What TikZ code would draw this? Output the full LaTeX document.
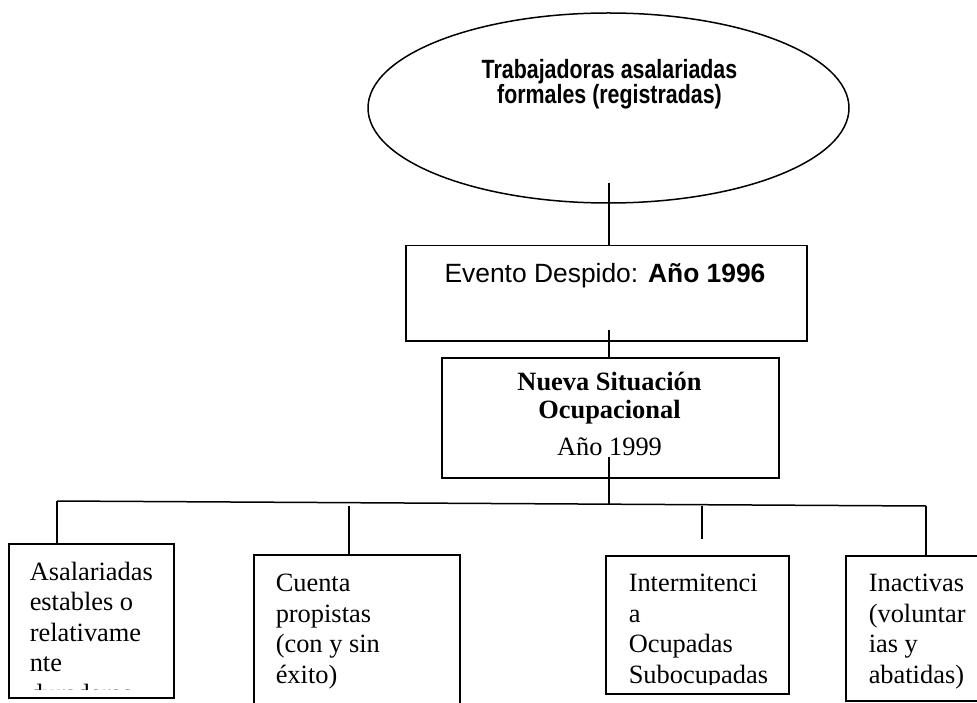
\documentclass[tikz,border=0pt]{standalone}
\usepackage{fontspec}
\setmainfont{Liberation Serif}
\setsansfont{Liberation Sans}
\newfontfamily\narrowsans[FakeStretch=0.81]{Liberation Sans}
\usetikzlibrary{shapes.geometric}

\begin{document}
\begin{tikzpicture}[x=1pt,y=-1pt,line width=1.5pt,
    caja/.style={draw,rectangle,inner sep=0pt,anchor=north west},
    serif/.style={font=\rmfamily\fontsize{26.4}{30.5}\selectfont,inner sep=0pt},
    sans/.style={font=\sffamily\fontsize{26.4}{30.5}\selectfont,inner sep=0pt},
    lista/.style={serif,align=left,anchor=base west}]
  \useasboundingbox (0,0) rectangle (977,703);
  \clip (0,0) rectangle (977,703);

  % poblacion de partida
  \node[draw,ellipse,minimum width=481pt,minimum height=190pt,inner sep=0pt] (trab) at (608.5,108) {};
  \node[font=\narrowsans\bfseries\fontsize{26.4}{22}\selectfont,align=center,anchor=base,inner sep=0pt]
    (trabt) at (609.5,104) {Trabajadoras asalariadas\\formales (registradas)};

  % evento y nueva situacion
  \node[caja,minimum width=401pt,minimum height=95pt] (evento) at (405,245) {};
  \node[sans,anchor=base] (eventot) at (605,283) {Evento Despido: \textbf{Año 1996}};
  \node[caja,minimum width=337pt,minimum height=120pt] (nueva) at (441,357) {};
  \node[serif,align=center,anchor=base] (nuevat) at (609.5,455)
    {\textbf{Nueva Situación}\\[-2pt]\textbf{Ocupacional}\\[6pt]Año 1999};

  % categorias
  \node[caja,minimum width=165pt,minimum height=154pt] (asal) at (8,543) {};
  \node[caja,minimum width=206pt,minimum height=200pt] (cuenta) at (253,554) {};
  \node[caja,minimum width=183pt,minimum height=138pt] (inter) at (605,555) {};
  \node[caja,minimum width=160pt,minimum height=145pt] (inact) at (845,555) {};

  % el texto queda cortado por el margen interior de la caja
  \begin{scope}
    \clip (asal.north west) rectangle ([yshift=9pt]asal.south east);
    \node[lista] (asalt) at (29,702) {Asalariadas\\estables o\\relativame\\nte\\duraderas};
  \end{scope}
  \node[lista] (cuentat) at (275,683) {Cuenta\\propistas\\(con y sin\\éxito)};
  \begin{scope}
    \clip (inter.north west) rectangle ([yshift=10pt]inter.south east);
    \node[lista] (intert) at (628,683) {Intermitenci\\a\\Ocupadas\\Subocupadas};
  \end{scope}
  \node[lista] (inactt) at (868,683) {Inactivas\\(voluntar\\ias y\\abatidas)};

  % conectores
  \coordinate (trabpie) at (609,183);
  \coordinate (eventopie) at (609,330);
  \coordinate (nuevapie) at (609,457);
  \coordinate (ramaizq) at (57,501);
  \coordinate (ramamed) at (609,504);
  \coordinate (ramader) at (926,506);
  \coordinate (cuentatop) at (349,506);
  \coordinate (intertop) at (702,506);
  \coordinate (interbot) at (702,539);

  \draw (trabpie) -- (trabpie |- evento.north);
  \draw (eventopie) -- (eventopie |- nueva.north);
  \draw (nuevapie) -- (ramamed);
  \draw (ramaizq) -- (ramader);
  \draw (ramaizq) -- (ramaizq |- asal.north);
  \draw (cuentatop) -- (cuentatop |- cuenta.north);
  \draw (intertop) -- (interbot);
  \draw (ramader) -- (ramader |- inact.north);
\end{tikzpicture}
\end{document}
